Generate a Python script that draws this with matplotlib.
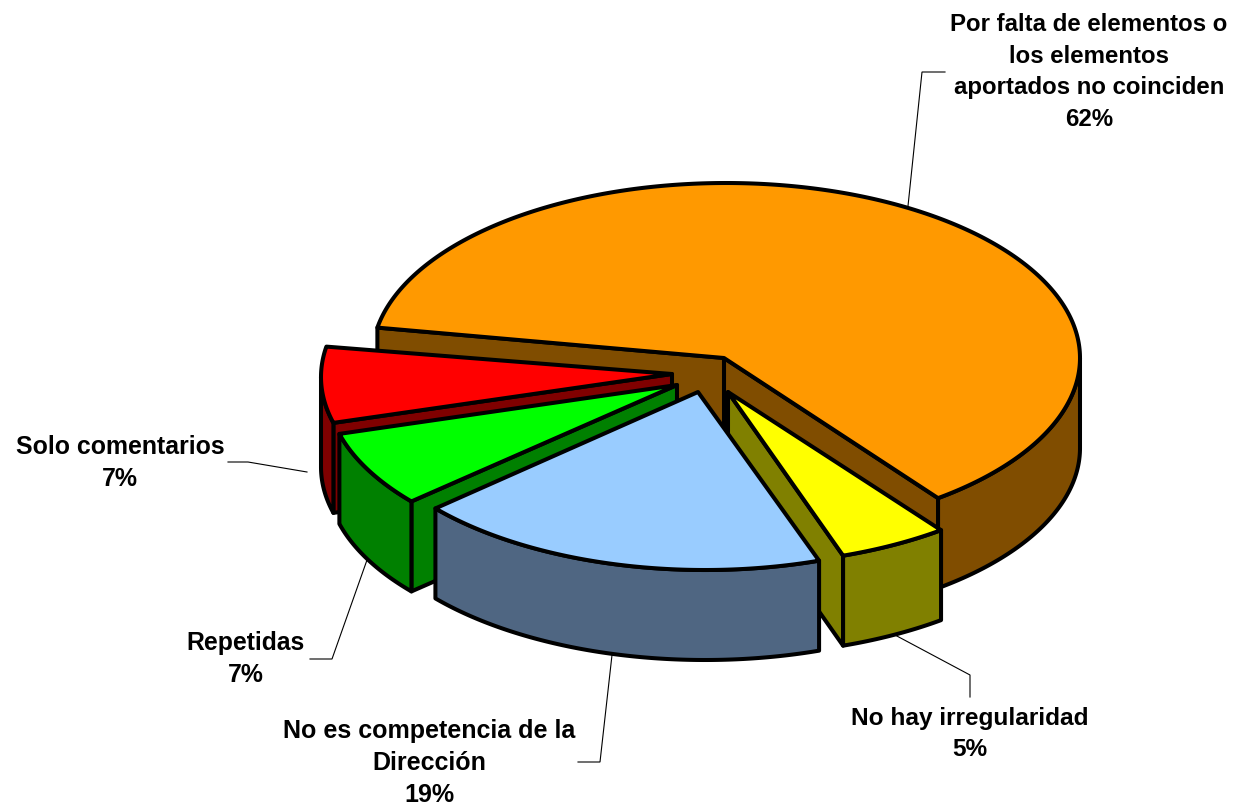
import numpy as np
import matplotlib
matplotlib.use("Agg")
import matplotlib.pyplot as plt
from matplotlib.patches import Polygon

# data (in drawing order of the pie, clockwise)
categories = ["Por falta de elementos o\nlos elementos\naportados no coinciden", "No hay irregularidad",
              "No es competencia de la\nDirección", "Repetidas", "Solo comentarios"]
values = [62, 5, 19, 7, 7]
percent_labels = ["62%", "5%", "19%", "7%", "7%"]

# style
top_colors = ["#FF9900", "#FFFF00", "#99CCFF", "#00FF00", "#FF0000"]
side_colors = ["#804D00", "#808000", "#4F6682", "#008000", "#800000"]
rim_centers = [(726, 358), (729, 390), (705, 395), (681, 388), (675, 377)]
apexes = [(724, 358), (728, 392), (698, 392), (677, 385), (672, 374)]
label_pos = [(1089, 72), (970, 734), (429, 763), (246, 659), (120, 463)]
label_sizes = [17.3, 17.6, 18.0, 17.8, 17.9]
leaders = [[(908, 206), (922, 72), (945, 72)],
           [(895, 635), (970, 675), (970, 697)],
           [(612, 655), (600, 762), (578, 762)],
           [(367, 560), (332, 659), (310, 659)],
           [(307, 472), (248, 462), (228, 462)]]
RX, RY, DEPTH = 354, 175, 90
START = 170.0
draw_order = [0, 4, 3, 1, 2]
LW = 2.9
LINE_PX = 32

fig = plt.figure(figsize=(12.47, 8.05), dpi=100)
ax = fig.add_axes([0, 0, 1, 1])
ax.set_xlim(0, 1247)
ax.set_ylim(805, 0)
ax.axis("off")


def rim(c, a0, a1, n=120):
    t = np.radians(np.linspace(a0, a1, n))
    return np.column_stack([c[0] + RX * np.cos(t), c[1] - RY * np.sin(t)])


def add(pts, color, z):
    ax.add_patch(Polygon(pts, closed=True, facecolor=color, edgecolor="black",
                         linewidth=LW, joinstyle="round", zorder=z))


def cross(u, v):
    return u[0] * v[1] - u[1] * v[0]


fracs = np.array(values, dtype=float) / sum(values) * 360
ends = START - np.concatenate([[0], np.cumsum(fracs)[:-1]])
starts = ends - fracs
down = np.array([0, DEPTH])

for z, i in enumerate(draw_order):
    c = np.array(rim_centers[i], dtype=float)
    apex = np.array(apexes[i], dtype=float)
    a0, a1 = starts[i], ends[i]
    base = z * 10 + 2
    mid = rim(c, (a0 + a1) / 2, (a0 + a1) / 2, 1)[0]
    if i == 0:  # large slice: both cut faces look toward the viewer
        walls = [a0, a1]
    else:
        walls = []
        for a in (a0, a1):
            p = rim(c, a, a, 1)[0]
            if cross(p - apex, mid - apex) * cross(p - apex, down) < 0:
                walls.append(a)
    for a in walls:
        p = rim(c, a, a, 1)[0]
        add([apex, p, p + down, apex + down], side_colors[i], base)
    # outer wall: the part of the arc facing the viewer (lower half of the ellipse)
    for k in (0, -360, 360):
        s, e = max(a0, -180 + k), min(a1, 0 + k)
        if e > s:
            arc = rim(c, s, e)
            add(np.vstack([arc, (arc + down)[::-1]]), side_colors[i], base + 1)
    # top face
    add(np.vstack([apex, rim(c, a0, a1, 300)]), top_colors[i], base + 2)

for i in range(len(values)):
    xs, ys = zip(*leaders[i])
    ax.plot(xs, ys, color="black", lw=0.8, zorder=100, solid_joinstyle="miter")
    ax.text(label_pos[i][0], label_pos[i][1], categories[i] + "\n" + percent_labels[i],
            ha="center", va="center", multialignment="center",
            family="Liberation Sans", weight="bold", fontsize=label_sizes[i],
            linespacing=LINE_PX / (label_sizes[i] * 1.236),
            color="black", zorder=101)

fig.savefig("out.png", dpi=100, facecolor="white")
